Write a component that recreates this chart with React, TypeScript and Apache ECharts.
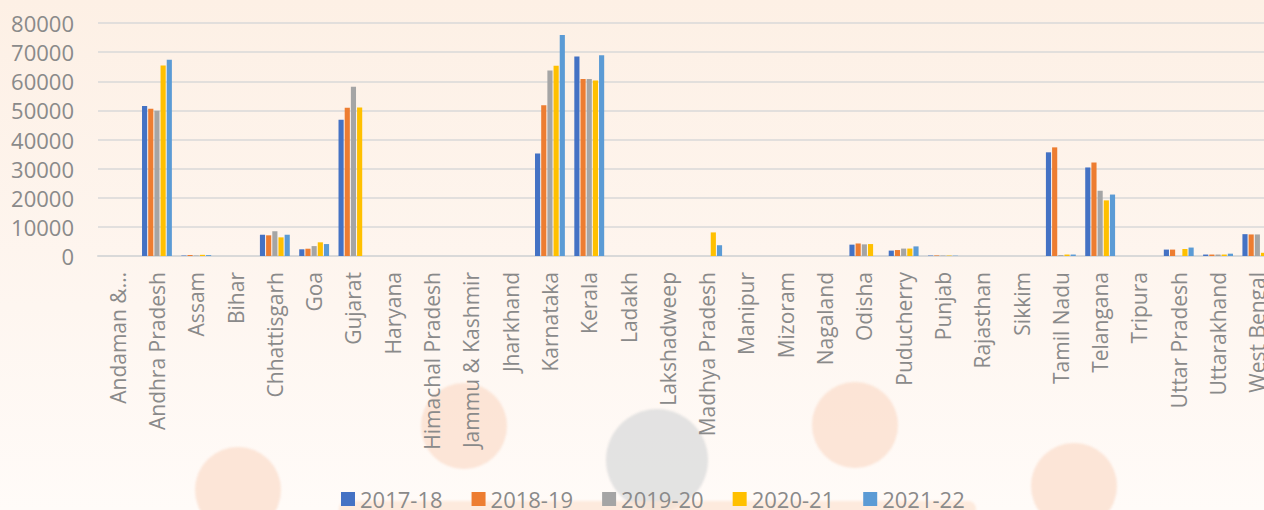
import React, { useEffect, useRef } from "react";
import * as echarts from "echarts";

const states = [
  "Andaman & Nicobar Islands", "Andhra Pradesh", "Assam", "Bihar", "Chhattisgarh", "Goa", "Gujarat",
  "Haryana", "Himachal Pradesh", "Jammu & Kashmir", "Jharkhand", "Karnataka", "Kerala", "Ladakh",
  "Lakshadweep", "Madhya Pradesh", "Manipur", "Mizoram", "Nagaland", "Odisha", "Puducherry",
  "Punjab", "Rajasthan", "Sikkim", "Tamil Nadu", "Telangana", "Tripura", "Uttar Pradesh",
  "Uttarakhand", "West Bengal",
];

const years = ["2017-18", "2018-19", "2019-20", "2020-21", "2021-22"];

const v2017 = [0, 51500, 150, 0, 7300, 2300, 46800, 0, 0, 0, 0, 35200, 68500, 0, 0, 0, 0, 0, 0, 3900, 1850, 150, 0, 0, 35600, 30400, 0, 2200, 500, 7500];
const v2018 = [0, 50600, 350, 0, 7100, 2500, 50900, 0, 0, 0, 0, 51800, 60800, 0, 0, 0, 0, 0, 0, 4300, 2050, 200, 0, 0, 37300, 32100, 0, 2200, 500, 7400];
const v2019 = [0, 49900, 150, 0, 8500, 3400, 58100, 0, 0, 0, 0, 63700, 60800, 0, 0, 0, 0, 0, 0, 4000, 2550, 150, 0, 0, 300, 22400, 0, 0, 500, 7400];
const v2020 = [0, 65400, 400, 0, 6400, 4700, 51000, 0, 0, 0, 0, 65300, 60300, 0, 0, 8100, 0, 0, 0, 4100, 2550, 150, 0, 0, 500, 19100, 0, 2400, 500, 1100];
const v2021 = [0, 67400, 300, 0, 7300, 4100, 0, 0, 0, 0, 0, 75900, 68900, 0, 0, 3700, 0, 0, 0, 0, 3300, 100, 0, 0, 500, 21100, 0, 2900, 800, 1000];

const seriesValues = [v2017, v2018, v2019, v2020, v2021];
const colors = ["#4472C4", "#ED7D31", "#A5A5A5", "#FFC000", "#5B9BD5"];

const yTicks = { min: 0, max: 80000, interval: 10000 };

const circles = [
  { x: 238, y: 490, r: 43, c: "rgba(251,222,204,0.75)" },
  { x: 464, y: 426, r: 43, c: "rgba(251,222,204,0.75)" },
  { x: 657, y: 460, r: 51, c: "rgba(222,222,222,0.85)" },
  { x: 855, y: 425, r: 43, c: "rgba(251,222,204,0.75)" },
  { x: 1074, y: 486, r: 43, c: "rgba(251,222,204,0.75)" },
];

export default function App() {
  const ref = useRef<HTMLDivElement>(null);

  useEffect(() => {
    if (!ref.current) return;
    const chart = echarts.init(ref.current, undefined, { renderer: "svg" });
    const font = "'Open Sans', sans-serif";
    chart.setOption({
      animation: false,
      backgroundColor: "transparent",
      textStyle: { fontFamily: font },
      grid: { left: 98, top: 23, height: 233, width: 1179, containLabel: false },
      legend: {
        left: 341,
        top: 488,
        padding: 0,
        icon: "rect",
        itemWidth: 14,
        itemHeight: 14,
        itemGap: 29,
        textStyle: { fontSize: 22, lineHeight: 20, color: "#8a8a8a", fontFamily: font },
        data: years,
      },
      xAxis: {
        type: "category",
        data: states,
        axisTick: { show: false },
        axisLine: { lineStyle: { color: "#d9d9d9", width: 2 } },
        axisLabel: {
          interval: 0,
          rotate: 90,
          margin: 16,
          fontSize: 21,
          color: "#8a8a8a",
          fontFamily: font,
          formatter: (v: string) => (v.length > 20 ? v.split(" ").slice(0, 2).join(" ") + "…" : v),
        },
      },
      yAxis: {
        type: "value",
        min: yTicks.min,
        max: yTicks.max,
        interval: yTicks.interval,
        axisLine: { show: false },
        axisTick: { show: false },
        axisLabel: {
          fontSize: 22,
          color: "#8a8a8a",
          margin: 24,
          fontFamily: font,
          formatter: (v: number) => String(v),
        },
        splitLine: { lineStyle: { color: "#d9d9d9", width: 1.5 } },
      },
      series: years.map((y, i) => ({
        name: y,
        type: "bar",
        data: seriesValues[i],
        itemStyle: { color: colors[i] },
        barGap: "20%",
        barCategoryGap: "24%",
      })),
    });
    return () => chart.dispose();
  }, []);

  return (
    <div
      style={{
        position: "fixed",
        left: 0,
        top: 0,
        width: 1264,
        height: 510,
        overflow: "hidden",
        background: "linear-gradient(180deg, #fdf0e5 0%, #fef6f0 60%, #fffbf8 100%)",
      }}
    >
      {circles.map((c, i) => (
        <div
          key={i}
          style={{
            position: "absolute",
            left: c.x - c.r,
            top: c.y - c.r,
            width: c.r * 2,
            height: c.r * 2,
            borderRadius: "50%",
            background: c.c,
            filter: "blur(1px)",
          }}
        />
      ))}
      <div
        style={{
          position: "absolute",
          left: 339,
          top: 501,
          width: 637,
          height: 20,
          borderRadius: 8,
          background: "rgba(252,226,210,0.7)",
          filter: "blur(1px)",
        }}
      />
      <div ref={ref} style={{ position: "absolute", left: 0, top: 0, width: 1300, height: 510 }} />
    </div>
  );
}
